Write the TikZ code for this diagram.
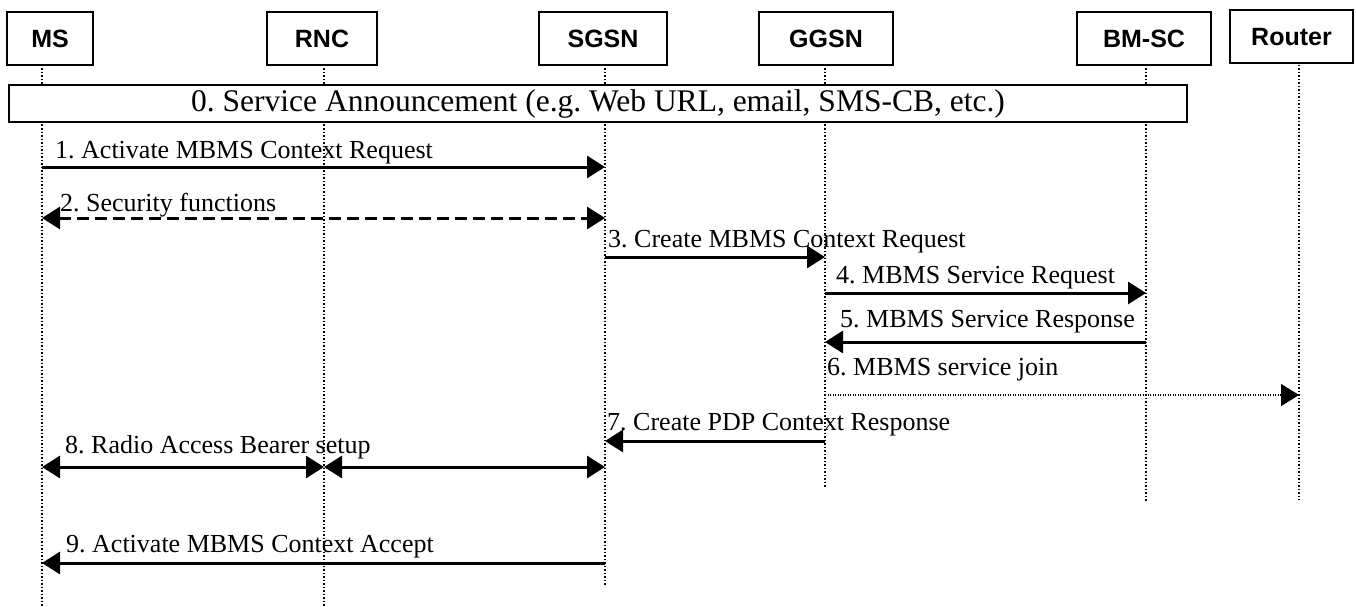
\documentclass[tikz,border=0pt]{standalone}
\usepackage{fontspec}
\setmainfont{Liberation Serif}
\newfontfamily\entityfont{Liberation Sans}
\usetikzlibrary{arrows.meta}
\frenchspacing

\begin{document}
\begin{tikzpicture}[
  x=1pt, y=-1pt,
  entity/.style={draw, line width=2pt, minimum height=53pt, inner sep=0pt, font=\entityfont\bfseries\fontsize{25}{29}\selectfont},
  lifeline/.style={line width=1.5pt, dash pattern=on 1.5pt off 2pt},
  msg/.style={-{Triangle[length=18pt,width=22pt]}, line width=3pt},
  biway/.style={{Triangle[length=18pt,width=22pt]}-{Triangle[length=18pt,width=22pt]}, line width=3pt},
  joinmsg/.style={-{Triangle[length=18pt,width=22pt]}, line width=1.2pt, dash pattern=on 1.2pt off 1.3pt},
  msglabel/.style={anchor=base west, inner sep=0pt, font=\fontsize{26}{30}\selectfont}
]
\useasboundingbox (0,0) rectangle (1356,607);
\node[entity, minimum width=86pt] (ms) at (50,38.5) {MS};
\node[entity, minimum width=110pt] (rnc) at (322,38.5) {RNC};
\node[entity, minimum width=128pt] (sgsn) at (603,38.5) {SGSN};
\node[entity, minimum width=134pt] (ggsn) at (826,38.5) {GGSN};
\node[entity, minimum width=134pt] (bmsc) at (1144,38.5) {BM-SC};
\node[entity, minimum width=123pt] (router) at (1291.5,37) {Router};
\foreach \n/\x/\e in {ms/42/607, rnc/324/607, sgsn/605/585, ggsn/825/488, bmsc/1146/502, router/1299/500} {
  \coordinate (\n-top) at (\x,65);
  \coordinate (\n-end) at (\x,\e);
  \draw[lifeline] (\n-top) -- (\n-end);
}
\node[draw, line width=1.5pt, fill=white, minimum width=1178pt, minimum height=37pt, inner sep=0pt,
  font=\fontsize{31.5}{36}\selectfont] (announce) at (598,103.5) {0. Service Announcement (e.g. Web URL, email, SMS-CB, etc.)};

\draw[msg] (ms-top |- 0,167) -- (sgsn-top |- 0,167);
\node[msglabel] (m1) at (55,158) {1. Activate MBMS Context Request};
\draw[biway, dash pattern=on 12pt off 6pt] (ms-top |- 0,218) -- (sgsn-top |- 0,218);
\node[msglabel] (m2) at (60,211) {2. Security functions};
\draw[msg] (sgsn-top |- 0,257) -- (ggsn-top |- 0,257);
\node[msglabel] (m3) at (608,247) {3. Create MBMS Context Request};
\draw[msg] (ggsn-top |- 0,293) -- (bmsc-top |- 0,293);
\node[msglabel] (m4) at (836,283) {4. MBMS Service Request};
\draw[msg] (bmsc-top |- 0,342) -- (ggsn-top |- 0,342);
\node[msglabel] (m5) at (840,327) {5. MBMS Service Response};
\draw[joinmsg] (ggsn-top |- 0,395) -- (router-top |- 0,395);
\node[msglabel] (m6) at (827,375) {6. MBMS service join};
\draw[msg] (ggsn-top |- 0,441) -- (sgsn-top |- 0,441);
\node[msglabel] (m7) at (607,430) {7. Create PDP Context Response};
\draw[biway] (ms-top |- 0,467) -- (rnc-top |- 0,467);
\draw[biway] (rnc-top |- 0,467) -- (sgsn-top |- 0,467);
\node[msglabel] (m8) at (65,453) {8. Radio Access Bearer setup};
\draw[msg] (sgsn-top |- 0,563) -- (ms-top |- 0,563);
\node[msglabel] (m9) at (66,552) {9. Activate MBMS Context Accept};
\end{tikzpicture}
\end{document}
